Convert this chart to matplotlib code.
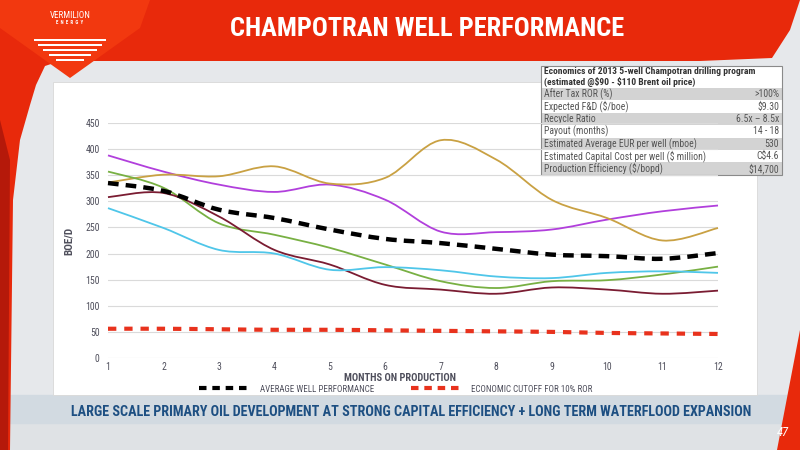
import numpy as np
import matplotlib
matplotlib.use('Agg')
import matplotlib.pyplot as plt
from matplotlib import font_manager
from matplotlib.path import Path
from matplotlib.patches import PathPatch, Polygon, Rectangle
from matplotlib.lines import Line2D

# pick a narrow font if one is installed
names = {f.name for f in font_manager.fontManager.ttflist}
narrow = next((n for n in ['Liberation Sans Narrow', 'Roboto Condensed',
                           'Open Sans Condensed', 'DejaVu Sans Condensed',
                           'DejaVu Sans'] if n in names), 'DejaVu Sans')
plt.rcParams['font.family'] = [narrow, 'DejaVu Sans']
plt.rcParams['font.stretch'] = 'condensed'

# data
months = [1, 2, 3, 4, 5, 6, 7, 8, 9, 10, 11, 12]
well_purple = [388, 357, 332, 318, 332, 303, 242, 241, 246, 265, 281, 292]
well_gold = [336, 351, 348, 367, 334, 345, 417, 380, 303, 268, 225, 249]
well_green = [357, 326, 258, 236, 211, 179, 147, 134, 147, 149, 160, 175]
well_maroon = [308, 316, 271, 207, 179, 140, 131, 123, 135, 131, 123, 129]
well_cyan = [287, 249, 207, 200, 169, 174, 168, 156, 153, 163, 166, 163]
avg_well = [335, 320, 284, 268, 246, 228, 220, 209, 198, 195, 190, 201]
cutoff = [56, 56, 55, 54, 54, 53, 52, 51, 50, 48, 47, 46]
y_ticks = [0, 50, 100, 150, 200, 250, 300, 350, 400, 450]

table_title = ['Economics of 2013 5-well Champotran drilling program',
               '(estimated @\\$90 - \\$110 Brent oil price)']
table_labels = ['After Tax ROR (%)', 'Expected F&D (\\$/boe)', 'Recycle Ratio',
                'Payout (months)', 'Estimated Average EUR per well (mboe)',
                'Estimated Capital Cost per well (\\$ million)',
                'Production Efficiency (\\$/bopd)']
table_values = ['>100%', '\\$9.30', '6.5x \u2013 8.5x', '14 - 18', '530',
                'C\\$4.6', '\\$14,700']


def smooth_path(x, y):
    # catmull-rom style bezier through the points
    pts = np.column_stack([x, y]).astype(float)
    n = len(pts)
    verts = [pts[0]]
    codes = [Path.MOVETO]
    for i in range(n - 1):
        p0 = pts[max(i - 1, 0)]
        p1 = pts[i]
        p2 = pts[i + 1]
        p3 = pts[min(i + 2, n - 1)]
        c1 = p1 + (p2 - p0) / 6.0
        c2 = p2 - (p3 - p1) / 6.0
        verts += [c1, c2, p2]
        codes += [Path.CURVE4] * 3
    return Path(verts, codes)


fig = plt.figure(figsize=(8, 4.5), dpi=100)
fig.patch.set_facecolor('#e6e8eb')
renderer = fig.canvas.get_renderer()


def fit_width(t, width_px):
    # shrink a text so that it spans width_px
    w = t.get_window_extent(renderer).width
    if w > width_px:
        t.set_fontsize(t.get_fontsize() * width_px / w)


# background / slide decoration in pixel coordinates
bg = fig.add_axes([0, 0, 1, 1], zorder=0)
bg.set_xlim(0, 800)
bg.set_ylim(450, 0)
bg.axis('off')

bg.add_patch(Rectangle((0, 423), 800, 27, color='#dfe2e5'))
bg.add_patch(Rectangle((10, 395), 780, 28, color='#d2dae1'))
bg.add_patch(Rectangle((53, 82), 704, 313, facecolor='white',
                       edgecolor='#d8d8d8', lw=0.6))

# red header and side bands
bg.add_patch(Polygon([(0, 0), (800, 0), (790, 30), (772, 58), (700, 61),
                      (60, 61), (45, 66), (36, 85), (30, 105), (20, 140),
                      (13, 200), (10, 450), (0, 450)],
                     closed=True, color='#e8290b', lw=0))
bg.add_patch(Polygon([(0, 120), (10, 160), (8, 450), (0, 450)],
                     closed=True, color='#b5190a', lw=0))
bg.add_patch(Polygon([(0, 0), (150, 0), (140, 28), (70, 78), (0, 28)],
                     closed=True, color='#f2380f', lw=0))
bg.add_patch(Polygon([(800, 330), (800, 450), (777, 450)],
                     closed=True, color='#e8290b', lw=0))

# logo
t = bg.text(70, 15, 'VERMILION', color='white', fontsize=6.5, ha='center',
            va='center')
fit_width(t, 46)
bg.text(70, 23, 'E  N  E  R  G  Y', color='white', fontsize=3.5, ha='center',
        va='center', fontweight='bold')
for half, yy in [(36, 40), (32, 45), (27, 50), (21, 55), (14, 60)]:
    bg.add_patch(Rectangle((70 - half, yy - 1.3), 2 * half, 2.6,
                           color='white', lw=0))

t = bg.text(427, 29, 'CHAMPOTRAN WELL PERFORMANCE', color='white',
            fontsize=19, fontweight='bold', ha='center', va='center')
fit_width(t, 410)

t = bg.text(411, 412, 'LARGE SCALE PRIMARY OIL DEVELOPMENT AT STRONG CAPITAL '
            'EFFICIENCY + LONG TERM WATERFLOOD EXPANSION', color='#1d4f82',
            fontsize=10.5, fontweight='bold', ha='center', va='center')
fit_width(t, 686)
bg.text(783, 432, '47', color='white', fontsize=9, style='italic',
        ha='center', va='center')

# economics table
tx0, tx1 = 541, 782
bg.add_patch(Rectangle((tx0, 66), tx1 - tx0, 22, facecolor='white', lw=0))
for k, line in enumerate(table_title):
    t = bg.text(tx0 + 3, 71.5 + k * 10, line, fontsize=6.8,
                fontweight='bold', color='#333333', va='center')
    fit_width(t, 233 if k == 0 else 180)
row_h = 12.4
for i, (lab, val) in enumerate(zip(table_labels, table_values)):
    y0 = 88 + i * row_h
    bg.add_patch(Rectangle((tx0, y0), tx1 - tx0, row_h,
                           facecolor='#d3d3d3' if i % 2 == 0 else 'white',
                           lw=0))
    t = bg.text(tx0 + 3, y0 + row_h / 2, lab, fontsize=7, color='#555555',
                va='center')
    fit_width(t, 165)
    bg.text(tx1 - 3, y0 + row_h / 2, val, fontsize=7, color='#555555',
            va='center', ha='right')
bg.add_patch(Rectangle((tx0, 66), tx1 - tx0, 88 + 7 * row_h - 66,
                       facecolor='none', edgecolor='#8a8a8a', lw=0.8))

# chart
ax = fig.add_axes([108 / 800, (450 - 358) / 450, 610 / 800, 235 / 450],
                  zorder=2)
ax.patch.set_alpha(0)
ax.set_xlim(1, 12)
ax.set_ylim(0, 450)
ax.set_xticks(months)
ax.set_yticks(y_ticks)
for s in ax.spines.values():
    s.set_visible(False)
ax.grid(axis='y', color='#dadada', lw=0.8)
ax.tick_params(length=0, labelsize=7, labelcolor='#4f4f5c', pad=3)
ax.tick_params(axis='y', pad=6)
ax.set_axisbelow(True)

series = [
    (well_purple, '#b13fdc'),
    (well_gold, '#c9a143'),
    (well_green, '#78b043'),
    (well_maroon, '#7a1c32'),
    (well_cyan, '#4fc6e9'),
]
for vals, col in series:
    ax.add_patch(PathPatch(smooth_path(months, vals), fill=False,
                           edgecolor=col, lw=1.3, clip_on=False))

ax.add_patch(PathPatch(smooth_path(months, avg_well), fill=False,
                       edgecolor='black', lw=3.2, ls=(0, (2.4, 1.6)),
                       capstyle='butt', clip_on=False))
ax.add_patch(PathPatch(smooth_path(months, cutoff), fill=False,
                       edgecolor='#e8321d', lw=3.0, ls=(0, (2.0, 1.9)),
                       capstyle='butt', clip_on=False))

ax.set_ylabel('BOE/D', fontsize=8, fontweight='bold', color='#4f4f5c',
              labelpad=8)
ax.set_xlabel('MONTHS ON PRODUCTION', fontsize=7.5, fontweight='bold',
              color='#4f4f5c')
ax.xaxis.set_label_coords(0.479, -0.064)

handles = [Line2D([], [], color='black', lw=3, ls=(0, (1.8, 1.4))),
           Line2D([], [], color='#e8321d', lw=3, ls=(0, (1.8, 1.4)))]
fig.legend(handles, ['AVERAGE WELL PERFORMANCE', 'ECONOMIC CUTOFF FOR 10% ROR'],
           loc='center', bbox_to_anchor=(396 / 800, 1 - 389 / 450), ncol=2,
           frameon=False, fontsize=6.5, handlelength=5.8, columnspacing=4.1,
           handletextpad=0.9, labelcolor='#4f4f5c')

fig.savefig('out.png', dpi=100, facecolor=fig.get_facecolor())
